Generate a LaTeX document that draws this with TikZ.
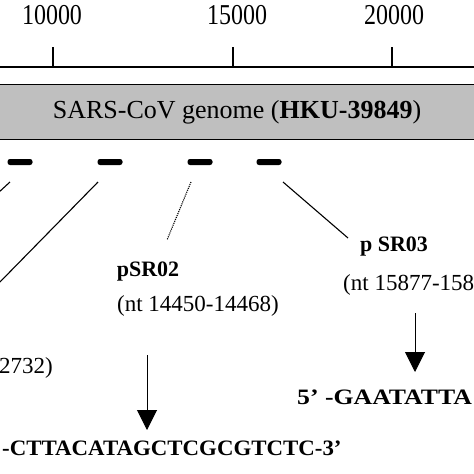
\documentclass[tikz,border=0pt]{standalone}
\usepackage{fontspec}
\setmainfont{Liberation Serif}
\usetikzlibrary{arrows.meta}
\begin{document}
\begin{tikzpicture}[x=1pt,y=1pt,
  ticklbl/.style={font=\fontsize{24}{24}\selectfont, yscale=1.2, transform shape, inner sep=0pt},
  genomebar/.style={draw=black, line width=1.5pt, fill=black!25, minimum width=500pt, minimum height=55pt, inner sep=0pt, font=\fontsize{26}{26}\selectfont},
  dashbar/.style={fill=black, rounded corners=2.5pt, minimum width=25pt, minimum height=6pt, inner sep=0pt},
  plabel/.style={font=\fontsize{22}{22}\bfseries\selectfont, inner sep=0pt},
  ntlabel/.style={font=\fontsize{23}{23}\selectfont, inner sep=0pt},
  seqlbl/.style={font=\fontsize{22}{22}\bfseries\selectfont, inner sep=0pt, transform shape},
  link/.style={line width=1.1pt},
  dotlink/.style={line width=1.1pt, densely dotted},
  downarrow/.style={line width=1pt, -{Triangle[width=20pt,length=20pt]}}
]
\useasboundingbox (0,0) rectangle (474,-474);
\clip (0,0) rectangle (474,-474);
\fill[white] (0,0) rectangle (474,-474);

% axis
\draw[line width=1.3pt] (-5,-67) -- (480,-67);
\draw[line width=1.3pt] (53,-67) -- (53,-47);
\draw[line width=1.3pt] (233,-67) -- (233,-47);
\draw[line width=1.3pt] (392,-67) -- (392,-47);
\node[ticklbl] (t10) at (52,-15) {10000};
\node[ticklbl] (t15) at (237,-15) {15000};
\node[ticklbl] (t20) at (394,-15) {20000};

% genome bar
\node[genomebar] (bar) at (237,-112) {SARS-CoV genome (\textbf{HKU-39849})};

% probe dashes
\node[dashbar] (d1) at (20,-162) {};
\node[dashbar] (d2) at (110,-162) {};
\node[dashbar] (d3) at (200,-162) {};
\node[dashbar] (d4) at (269,-162) {};

% labels
\node[plabel] (p2) at (148,-272) {pSR02};
\node[ntlabel] (nt2) at (198,-306) {(nt 14450-14468)};
\node[plabel] (p3) at (394,-247) {p SR03};
\node[ntlabel, anchor=west] (nt3) at (343,-285) {(nt 15877-158};
\node[ntlabel, anchor=east] (nt1) at (53,-368) {2732)};

% sequences
\node[seqlbl, anchor=west, xscale=1.04] (s2) at (2,-448) {-CTTACATAGCTCGCGTCTC-3’};
\node[seqlbl, anchor=west, xscale=1.17] (s3) at (297,-397) {5’ -GAATATTA};

% connectors
\coordinate (l1a) at (10,-182);  \coordinate (l1b) at (-2,-193);
\coordinate (l2a) at (98,-182);  \coordinate (l2b) at (-2,-284);
\coordinate (l3a) at (191,-182); \coordinate (l3b) at (167,-240);
\coordinate (l4a) at (283,-182); \coordinate (l4b) at (348,-238);
\draw[link] (l1a) -- (l1b);
\draw[link] (l2a) -- (l2b);
\draw[dotlink] (l3a) -- (l3b);
\draw[link] (l4a) -- (l4b);

% arrows
\coordinate (a2s) at (147,-355); \coordinate (a2e) at (147,-430);
\coordinate (a3s) at (415,-313); \coordinate (a3e) at (415,-372);
\draw[downarrow] (a2s) -- (a2e);
\draw[downarrow] (a3s) -- (a3e);
\end{tikzpicture}
\end{document}
